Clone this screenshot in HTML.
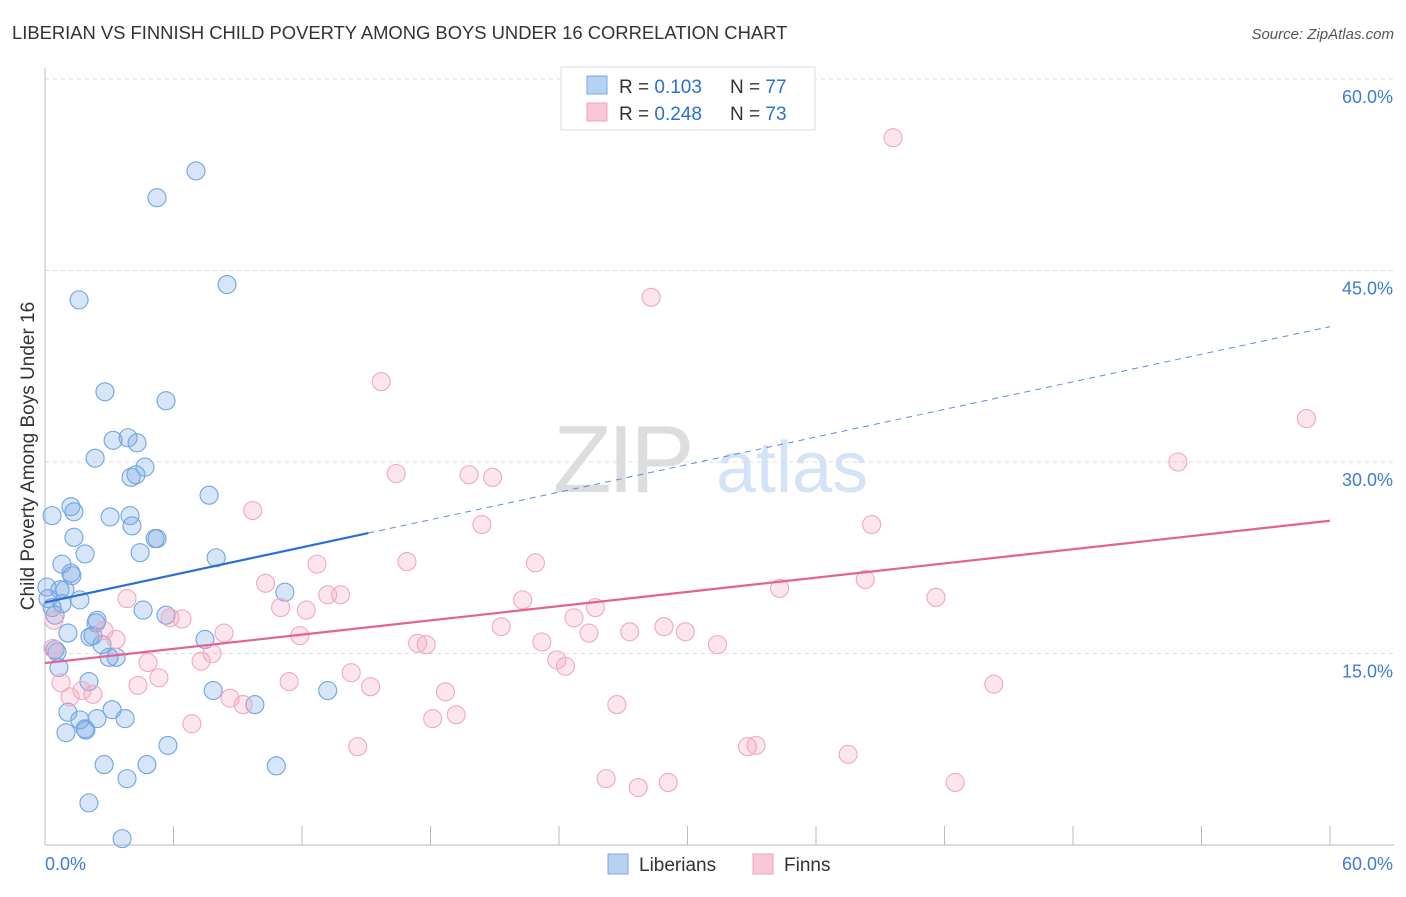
<!DOCTYPE html>
<html><head><meta charset="utf-8"><style>
body{margin:0;background:#fff;font-family:"Liberation Sans",sans-serif}
svg text{font-family:"Liberation Sans",sans-serif}
</style></head><body>
<svg id="chart" width="1406" height="892">
<text x="12" y="39" font-size="18.4" fill="#333">LIBERIAN VS FINNISH CHILD POVERTY AMONG BOYS UNDER 16 CORRELATION CHART</text>
<text x="1394" y="39" font-size="15" fill="#555" font-style="italic" text-anchor="end">Source: ZipAtlas.com</text>
<g>
<text x="553" y="492" font-size="96" fill="#ddd" font-family="Liberation Serif,serif" letter-spacing="-4">ZIP</text>
<text x="716" y="492" font-size="72" fill="#d4e3f5">atlas</text>
</g>
<g id="grid"></g>
<g id="axes"></g>
<g id="pts"></g>
<g id="trend"></g>
<g>
<rect x="561" y="67" width="254" height="63" fill="#fff" stroke="#ddd"/>
<rect x="587" y="76" width="20" height="18" fill="#b5d1f3" stroke="#7aa9e0"/>
<rect x="587" y="103" width="20" height="18" fill="#f8c8d8" stroke="#eda0bb"/>
<text x="619" y="93" font-size="19" fill="#333">R = <tspan fill="#2a6fd6">0.103</tspan></text>
<text x="730" y="93" font-size="19" fill="#333">N = <tspan fill="#2a6fd6">77</tspan></text>
<text x="619" y="120" font-size="19" fill="#333">R = <tspan fill="#2a6fd6">0.248</tspan></text>
<text x="730" y="120" font-size="19" fill="#333">N = <tspan fill="#2a6fd6">73</tspan></text>
</g>
<g>
<rect x="608" y="854" width="20" height="20" fill="#b5d1f3" stroke="#7aa9e0"/>
<text x="639" y="871" font-size="19" fill="#333">Liberians</text>
<rect x="753" y="854" width="20" height="20" fill="#f8c8d8" stroke="#eda0bb"/>
<text x="784" y="871" font-size="19" fill="#333">Finns</text>
</g>
<text transform="translate(34,456) rotate(-90)" font-size="19" fill="#333" text-anchor="middle">Child Poverty Among Boys Under 16</text>
</svg>
<script>
const yTicks=[15,30,45,60];
const yTickLabels=["15.0%","30.0%","45.0%","60.0%"];
const xEndLabels=["0.0%","60.0%"];
const blueX=[7.05,5.23,8.5,1.59,2.8,5.65,3.88,4.3,3.18,2.34,4.67,4.02,4.25,7.66,1.21,0.33,1.35,3.04,3.97,4.06,5.14,5.23,1.35,4.44,1.87,7.99,0.79,1.21,1.26,0.09,0.7,0.93,11.2,0.14,1.63,0.79,0.33,4.58,5.65,0.47,2.43,2.38,1.07,2.24,2.1,7.47,2.66,0.47,0.56,2.99,3.32,0.65,2.05,7.85,13.2,1.07,1.63,2.43,3.13,3.74,1.87,1.91,0.98,9.8,5.74,2.76,4.76,10.8,3.83,2.05,3.6];
const blueY=[52.8,50.7,43.9,42.7,35.5,34.8,31.9,31.5,31.7,30.3,29.6,28.8,29.0,27.4,26.5,25.8,26.1,25.7,25.8,25.0,24.0,24.0,24.1,22.9,22.8,22.5,22.0,21.3,21.1,20.2,20.0,20.0,19.8,19.3,19.2,18.9,18.6,18.4,18.0,18.0,17.6,17.4,16.6,16.4,16.3,16.1,15.7,15.3,15.1,14.7,14.7,13.9,12.8,12.1,12.1,10.4,9.8,9.9,10.6,9.9,9.1,9.0,8.8,11.0,7.8,6.3,6.3,6.2,5.2,3.3,0.5];
const pinkX=[39.6,28.3,15.7,58.9,52.9,16.4,19.8,20.9,9.7,20.4,38.6,16.9,22.9,12.7,10.3,38.3,34.3,41.6,3.83,13.2,13.8,22.3,11.0,12.2,25.7,24.7,5.84,6.4,0.42,21.3,28.9,29.9,27.3,25.4,8.36,2.76,11.9,3.32,17.4,17.8,23.2,31.4,0.37,7.8,23.9,24.3,4.81,7.29,14.3,5.32,0.75,11.4,4.34,15.2,44.3,1.73,2.24,1.17,18.7,8.64,9.25,26.7,19.2,18.1,6.86,14.6,32.8,33.2,37.5,26.2,29.1,27.7,42.5];
const pinkY=[55.4,42.9,36.3,33.4,30.0,29.1,29.0,28.8,26.2,25.1,25.1,22.2,22.1,22.0,20.5,20.8,20.1,19.4,19.3,19.6,19.6,19.2,18.6,18.4,18.6,17.8,17.8,17.7,17.6,17.1,17.1,16.7,16.7,16.6,16.6,16.8,16.4,16.1,15.8,15.7,15.9,15.7,15.4,15.0,14.5,14.0,14.3,14.4,13.5,13.1,12.7,12.8,12.5,12.4,12.6,12.1,11.8,11.6,12.0,11.5,11.0,11.0,10.2,9.9,9.5,7.7,7.7,7.8,7.1,5.2,4.9,4.5,4.9];
const blueTrend=[19.0,40.6];
const blueSolidEnd=15.1;
const pinkTrend=[14.25,25.4];
const X0=45,X1=1330,Y0=845,Y1=79;
const sx=v=>X0+(v/60)*(X1-X0);
const sy=v=>Y0-(v/60)*(Y0-Y1);
const NS="http://www.w3.org/2000/svg";
function mk(tag,attrs,parent){const e=document.createElementNS(NS,tag);for(const k in attrs)e.setAttribute(k,attrs[k]);document.getElementById(parent).appendChild(e);return e;}
yTicks.forEach((t,i)=>{
  const g=mk('line',{x1:X0,x2:1394,y1:sy(t),y2:sy(t),stroke:'#ddd','stroke-dasharray':'4,4'},'grid');
  
  
  const l=mk('text',{x:1393,y:sy(t)+24,'font-size':18,fill:'#3c7bd8','text-anchor':'end'},'grid');
  l.textContent=yTickLabels[i];
  
  
});
const ax=mk('line',{x1:X0,x2:1394,y1:Y0,y2:Y0,stroke:'#bbb'},'axes');


const ay=mk('line',{x1:X0,x2:X0,y1:68,y2:Y0,stroke:'#bbb'},'axes');


for(let i=0;i<=10;i++){
  const t=mk('line',{x1:sx(i*6),x2:sx(i*6),y1:826,y2:Y0,stroke:'#bbb'},'axes');
  
  
}
[[0,'start'],[60,'end']].forEach((p,i)=>{
  const l=mk('text',{x:sx(p[0])+(i?63:0),y:870,'font-size':18,fill:'#3c7bd8','text-anchor':p[1]},'axes');
  l.textContent=xEndLabels[i];
  
  
});
blueX.forEach((x,i)=>{
  const c=mk('circle',{cx:sx(x),cy:sy(blueY[i]),r:9,fill:'rgba(120,170,230,0.3)',stroke:'#72a4e0','stroke-width':1.1},'pts');
  
  
});
pinkX.forEach((x,i)=>{
  const c=mk('circle',{cx:sx(x),cy:sy(pinkY[i]),r:9,fill:'rgba(245,160,190,0.28)',stroke:'#f0a8c1','stroke-width':1.1},'pts');
  
  
});
const bAt=x=>blueTrend[0]+(blueTrend[1]-blueTrend[0])*x/60;
const b1=mk('line',{x1:sx(0),y1:sy(bAt(0)),x2:sx(blueSolidEnd),y2:sy(bAt(blueSolidEnd)),stroke:'#2a6fd6','stroke-width':2.2},'trend');


const b2=mk('line',{x1:sx(blueSolidEnd),y1:sy(bAt(blueSolidEnd)),x2:sx(60),y2:sy(blueTrend[1]),stroke:'#5b8fdc','stroke-width':1,'stroke-dasharray':'6,5'},'trend');


const p1=mk('line',{x1:sx(0),y1:sy(pinkTrend[0]),x2:sx(60),y2:sy(pinkTrend[1]),stroke:'#e4628f','stroke-width':2.2},'trend');


</script>
</body></html>
